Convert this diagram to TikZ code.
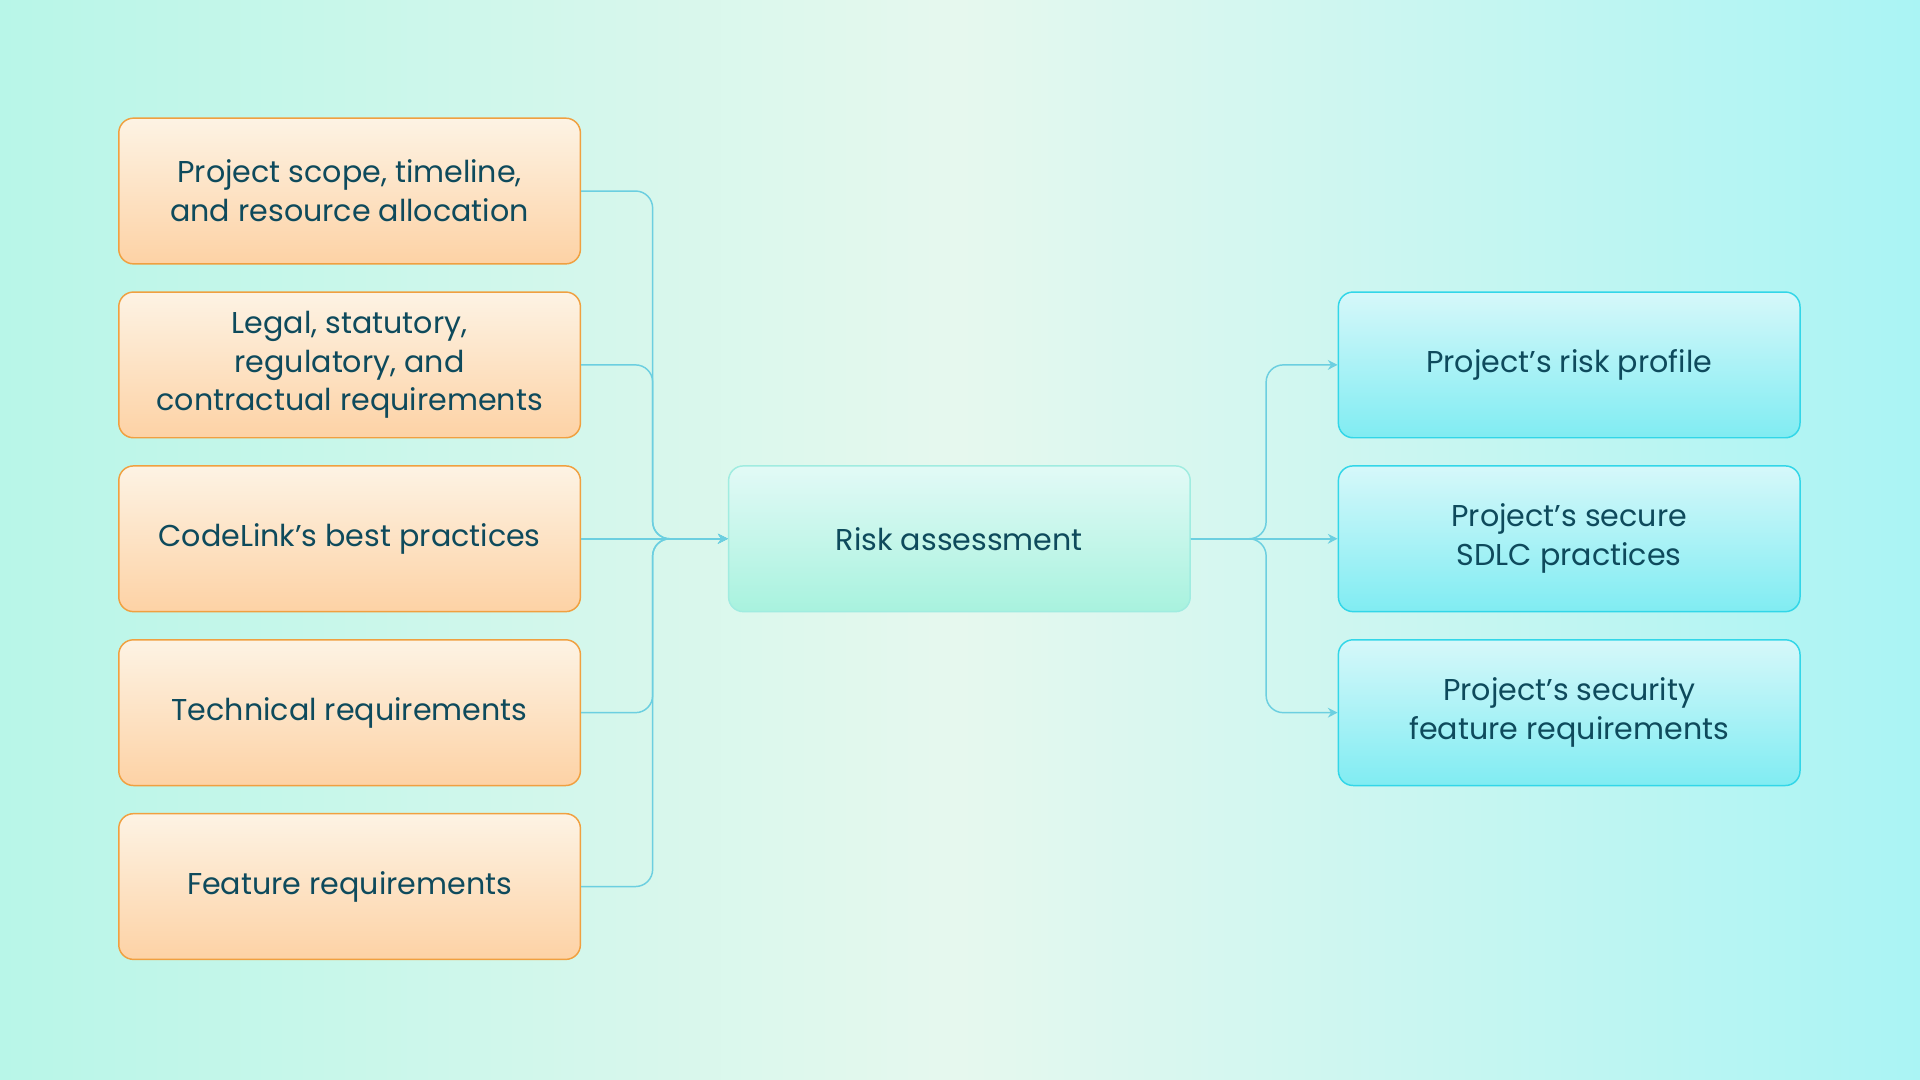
\documentclass[tikz,border=0pt]{standalone}
\usepackage{fontspec}
\setmainfont{Poppins}
\usetikzlibrary{arrows.meta}
\definecolor{txt}{HTML}{0E4A5C}
\definecolor{lnk}{HTML}{6CCFE0}
\definecolor{obord}{HTML}{F0A040}
\begin{document}
\begin{tikzpicture}[x=0.5pt,y=-0.5pt,
 box/.style={minimum width=188.5pt,minimum height=59.5pt,rounded corners=6pt,align=center,text=txt,font=\fontsize{12.3}{15.8}\selectfont,line width=0.6pt},
 inb/.style={box,draw=obord,top color={rgb,255:red,253;green,243;blue,228},bottom color={rgb,255:red,253;green,210;blue,165}},
 outb/.style={box,draw={rgb,255:red,50;green,214;blue,232},top color={rgb,255:red,214;green,248;blue,250},bottom color={rgb,255:red,128;green,236;blue,242}},
 midb/.style={box,draw={rgb,255:red,160;green,236;blue,224},top color={rgb,255:red,226;green,250;blue,246},bottom color={rgb,255:red,168;green,242;blue,222}},
 con/.style={draw=lnk,line width=0.6pt,rounded corners=7pt,-{Stealth[length=4pt,width=4pt]}}]
\shade[left color={rgb,255:red,184;green,246;blue,232},right color={rgb,255:red,170;green,244;blue,244},middle color={rgb,255:red,230;green,248;blue,238}] (0,0) rectangle (1568,882);
\useasboundingbox (0,0) rectangle (1568,882);
\node[inb] (a1) at (285.5,156) {Project scope, timeline,\\and resource allocation};
\node[inb] (a2) at (285.5,298) {Legal, statutory,\\regulatory, and\\contractual requirements};
\node[inb] (a3) at (285.5,440) {CodeLink’s best practices};
\node[inb] (a4) at (285.5,582) {Technical requirements};
\node[inb] (a5) at (285.5,724) {Feature requirements};
\node[midb] (r) at (783.5,440) {Risk assessment};
\node[outb] (b1) at (1281.5,298) {Project’s risk profile};
\node[outb] (b2) at (1281.5,440) {Project’s secure\\SDLC practices};
\node[outb] (b3) at (1281.5,582) {Project’s security\\feature requirements};
\coordinate (m) at (533,440);
\coordinate (n) at (1034,440);
\foreach \a in {a1,a2,a4,a5}{
 \draw[con] (\a.east) -| (m) -- (r.west);}
\draw[con] (a3.east) -- (r.west);
\draw[con] (r.east) -- (n) |- (b1.west);
\draw[con] (r.east) -- (b2.west);
\draw[con] (r.east) -- (n) |- (b3.west);
\end{tikzpicture}
\end{document}
